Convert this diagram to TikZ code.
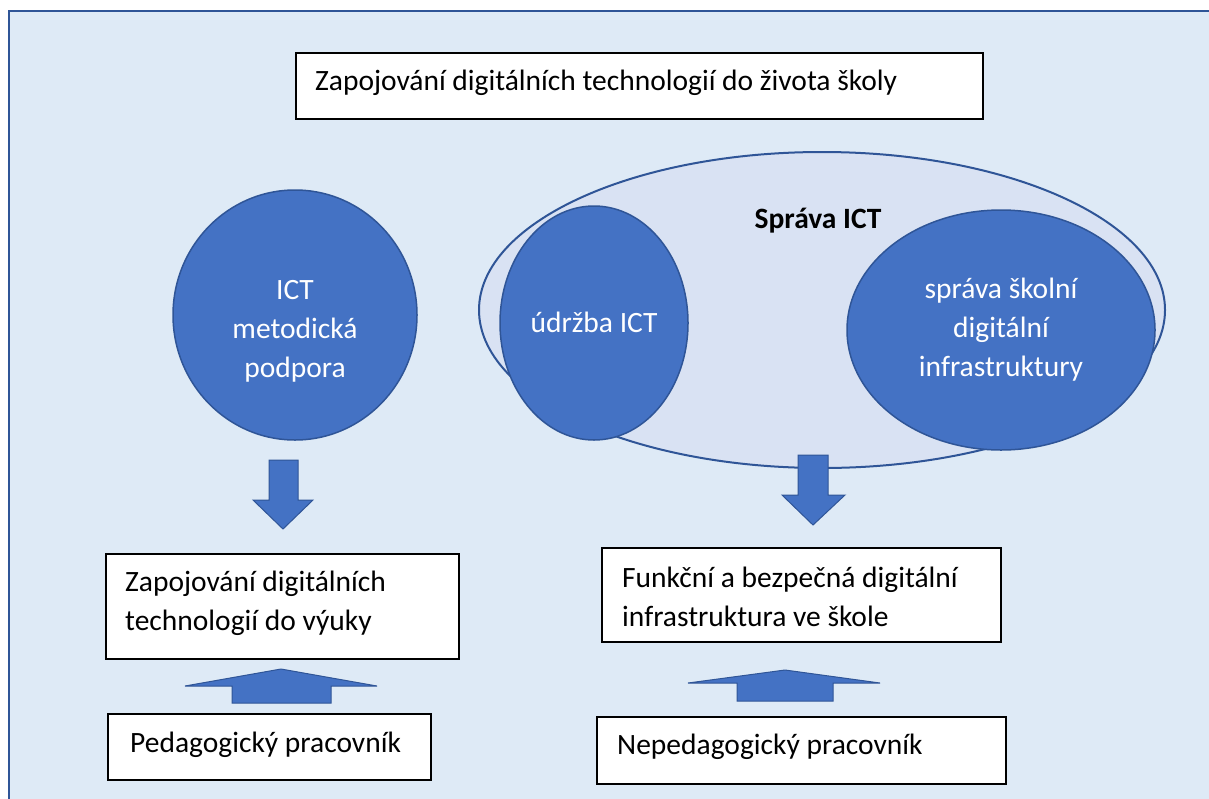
\documentclass[tikz,border=0pt]{standalone}
\usepackage{fontspec}
\setmainfont{Carlito}
\usetikzlibrary{shapes.geometric}
\definecolor{bgblue}{HTML}{DEEAF6}
\definecolor{ellbg}{HTML}{D9E2F3}
\definecolor{accent}{HTML}{4472C4}
\definecolor{darkline}{HTML}{2F5597}
\tikzset{
  txt/.style={font=\fontsize{29.5}{39}\selectfont},
  wbox/.style={draw=black, line width=1.6pt, fill=white, anchor=north west, inner sep=0pt},
  boxtext/.style={txt, anchor=west, align=left, inner sep=0pt},
  blueell/.style={ellipse, draw=darkline, line width=1.5pt, fill=accent, inner sep=0pt},
  elltext/.style={txt, text=white, align=center, inner sep=0pt},
  blockarrow/.style={draw=darkline, line width=1pt, fill=accent, line join=miter}
}
\begin{document}
\begin{tikzpicture}[x=1pt,y=-1pt]
\useasboundingbox (0,0) rectangle (1209,798);
% background frame
\draw[draw=darkline, line width=2.2pt, fill=bgblue] (9,11) rectangle (1230,820);

% top box
\node[wbox, minimum width=687pt, minimum height=66pt] (top) at (295,52) {};
\node[boxtext] (toptext) at (315,83) {Zapojování digitálních technologií do života školy};

% big ellipse
\node[ellipse, draw=darkline, line width=2pt, fill=ellbg, minimum width=686pt, minimum height=316pt, inner sep=0pt] (sprava) at (822,310) {};
\node[font=\fontsize{29.5}{39}\selectfont\bfseries, inner sep=0pt] (spravalabel) at (818,221) {Správa ICT};

% blue ellipses
\node[blueell, minimum width=244pt, minimum height=250pt] (metod) at (295,315) {};
\node[elltext] (metodtext) at (295,331) {ICT\\metodická\\podpora};

\node[blueell, minimum width=188pt, minimum height=234pt] (udrzba) at (594,323) {};
\node[elltext] (udrzbatext) at (594,322) {údržba ICT};

\node[blueell, minimum width=308pt, minimum height=240pt] (infra) at (1001,330) {};
\node[elltext] (infratext) at (1001,330) {správa školní\\digitální\\infrastruktury};

% down arrows
\draw[blockarrow] (269,460) -- (298,460) -- (298,500) -- (313,500) -- (283,529) -- (253,500) -- (269,500) -- cycle;
\draw[blockarrow] (798,455) -- (828,455) -- (828,495) -- (845,495) -- (813,525) -- (782,495) -- (798,495) -- cycle;

% middle boxes
\node[wbox, minimum width=353pt, minimum height=105pt] (vyuka) at (105,553) {};
\node[boxtext] (vyukatext) at (125,603) {Zapojování digitálních\\technologií do výuky};

\node[wbox, minimum width=399pt, minimum height=94pt] (funkcni) at (601,547) {};
\node[boxtext] (funkcnitext) at (622,597) {Funkční a bezpečná digitální\\infrastruktura ve škole};

% up arrows
\draw[blockarrow] (232,703) -- (331,703) -- (331,686) -- (377,686) -- (281,669) -- (185,686) -- (232,686) -- cycle;
\draw[blockarrow] (737,701) -- (833,701) -- (833,683) -- (880,683) -- (785,670) -- (688,683) -- (737,683) -- cycle;

% bottom boxes
\node[wbox, minimum width=323pt, minimum height=66pt] (ped) at (107,713) {};
\node[boxtext] (pedtext) at (130,745) {Pedagogický pracovník};

\node[wbox, minimum width=409pt, minimum height=67pt] (neped) at (596,716) {};
\node[boxtext] (nepedtext) at (617,747) {Nepedagogický pracovník};
\end{tikzpicture}
\end{document}
